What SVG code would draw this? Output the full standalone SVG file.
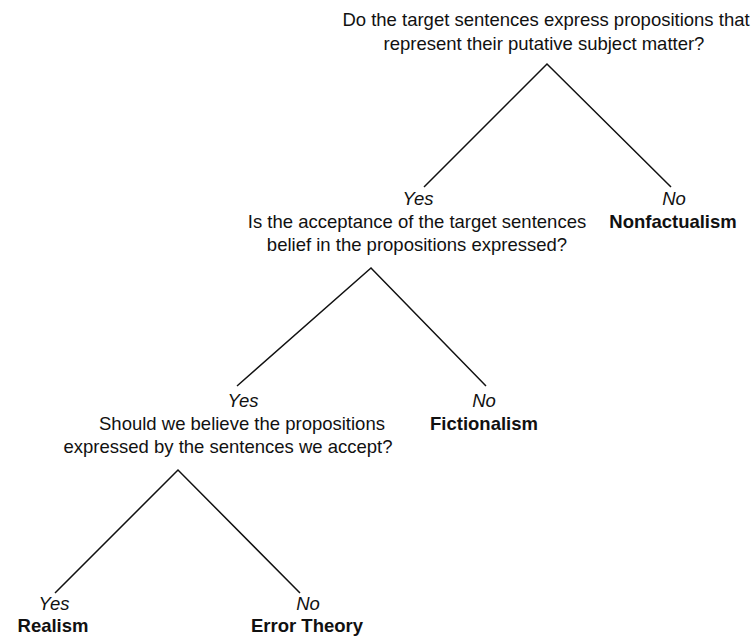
<svg xmlns="http://www.w3.org/2000/svg" width="752" height="637" viewBox="0 0 752 637">
<style>
text{font-family:"Liberation Sans",Arial,sans-serif;font-size:18.5px;fill:#111;text-anchor:middle}
.a{font-style:italic}
.b{font-weight:bold}
.l{stroke:#111;stroke-width:1.5;fill:none}
</style>
<rect width="752" height="637" fill="#fff"/>
<g id="q1">
<text x="546" y="26">Do the target sentences express propositions that</text>
<text x="544" y="50">represent their putative subject matter?</text>
</g>
<g id="q2">
<text class="a" x="418" y="205">Yes</text>
<text x="417" y="228">Is the acceptance of the target sentences</text>
<text x="417" y="251">belief in the propositions expressed?</text>
</g>
<g id="nonfactualism">
<text class="a" x="674" y="205">No</text>
<text class="b" x="673" y="228">Nonfactualism</text>
</g>
<g id="q3">
<text class="a" x="243" y="407">Yes</text>
<text x="242" y="430">Should we believe the propositions</text>
<text x="228" y="453">expressed by the sentences we accept?</text>
</g>
<g id="fictionalism">
<text class="a" x="484" y="407">No</text>
<text class="b" x="484" y="430">Fictionalism</text>
</g>
<g id="realism">
<text class="a" x="54" y="610">Yes</text>
<text class="b" x="53" y="632">Realism</text>
</g>
<g id="errortheory">
<text class="a" x="308" y="610">No</text>
<text class="b" x="307" y="632">Error Theory</text>
</g>
<g id="connectors" class="l">
<path d="M424 187 L547 64 L671 187"/>
<path d="M237 386 L371 268 L486 386"/>
<path d="M55 593 L178 470 L300 593"/>
</g>
</svg>
